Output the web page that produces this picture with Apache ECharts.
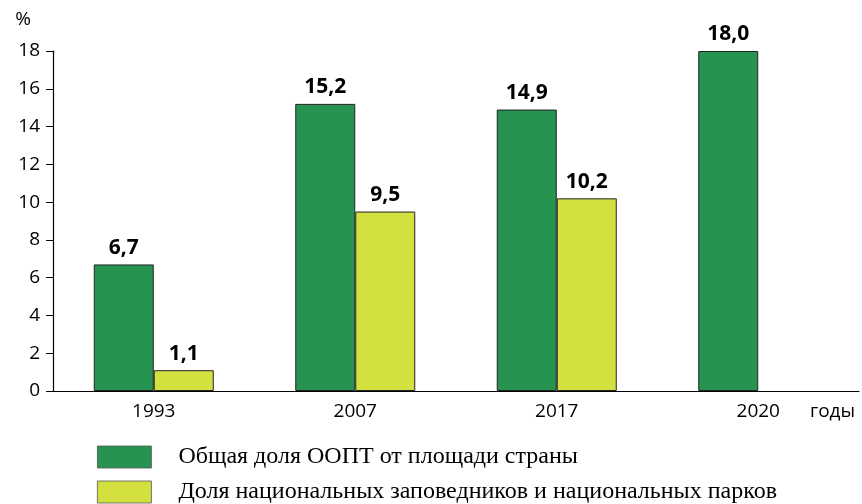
<!DOCTYPE html>
<html><head><meta charset="utf-8">
<script src="https://cdn.jsdelivr.net/npm/echarts@6/dist/echarts.min.js"></script>
<style>html,body{margin:0;padding:0;background:#fff}#c{width:862px;height:504px}</style>
</head><body><div id="c"></div>
<script>
const categories = ['1993', '2007', '2017', '2020'];
const totalShare = [6.7, 15.2, 14.9, 18.0];
const parksShare = [1.1, 9.5, 10.2, '-'];
const seriesNames = ['Общая доля ООПТ от площади страны', 'Доля национальных заповедников и национальных парков'];
const yTicks = [0, 2, 4, 6, 8, 10, 12, 14, 16, 18];

const chart = echarts.init(document.getElementById('c'));
const fmt = p => Number(p.value).toFixed(1).replace('.', ',');
const labelStyle = { show: true, position: 'top', distance: 6, formatter: fmt, fontFamily: 'Open Sans', fontWeight: 'bold', fontSize: 21, color: '#000' };
const legendBase = { orient: 'horizontal', left: 97, padding: 0, itemWidth: 54, itemHeight: 22, icon: 'rect',
  itemStyle: { borderColor: '#555', borderWidth: 0.8 },
  textStyle: { fontFamily: 'Liberation Serif', fontSize: 24, color: '#000', padding: [8, 0, 0, 22] } };
chart.setOption({
  animation: false,
  grid: { left: 53, right: 3, top: 51, bottom: 113 },
  xAxis: {
    type: 'category', data: categories,
    axisLine: { lineStyle: { color: '#000', width: 1.2 } },
    axisTick: { show: false },
    axisLabel: { fontFamily: 'Open Sans', fontSize: 19, color: '#000', margin: 11 }
  },
  yAxis: {
    type: 'value', min: yTicks[0], max: yTicks[yTicks.length - 1], interval: 2,
    name: '%', nameLocation: 'end', nameGap: 22,
    nameTextStyle: { fontFamily: 'Open Sans', fontSize: 19, color: '#000', align: 'right', padding: [0, 22, 0, 0] },
    axisLine: { show: true, lineStyle: { color: '#000', width: 1.2 } },
    axisTick: { show: true, length: 7, lineStyle: { color: '#000' } },
    splitLine: { show: false },
    axisLabel: { fontFamily: 'Open Sans', fontSize: 19, color: '#000', margin: 13 }
  },
  legend: [
    Object.assign({}, legendBase, { top: 445, data: [seriesNames[0]] }),
    Object.assign({}, legendBase, { top: 480, data: [seriesNames[1]] })
  ],
  graphic: [
    { type: 'text', left: 810, top: 402, style: { text: 'годы', font: '19px "Open Sans"', fill: '#000' } }
  ],
  series: [
    { name: seriesNames[0], type: 'bar', data: totalShare, barWidth: 60, barGap: '0%',
      itemStyle: { color: '#279350', borderColor: '#222', borderWidth: 1 }, label: labelStyle },
    { name: seriesNames[1], type: 'bar', data: parksShare, barWidth: 60,
      itemStyle: { color: '#d4df40', borderColor: '#222', borderWidth: 1 }, label: labelStyle }
  ]
});
</script></body></html>
